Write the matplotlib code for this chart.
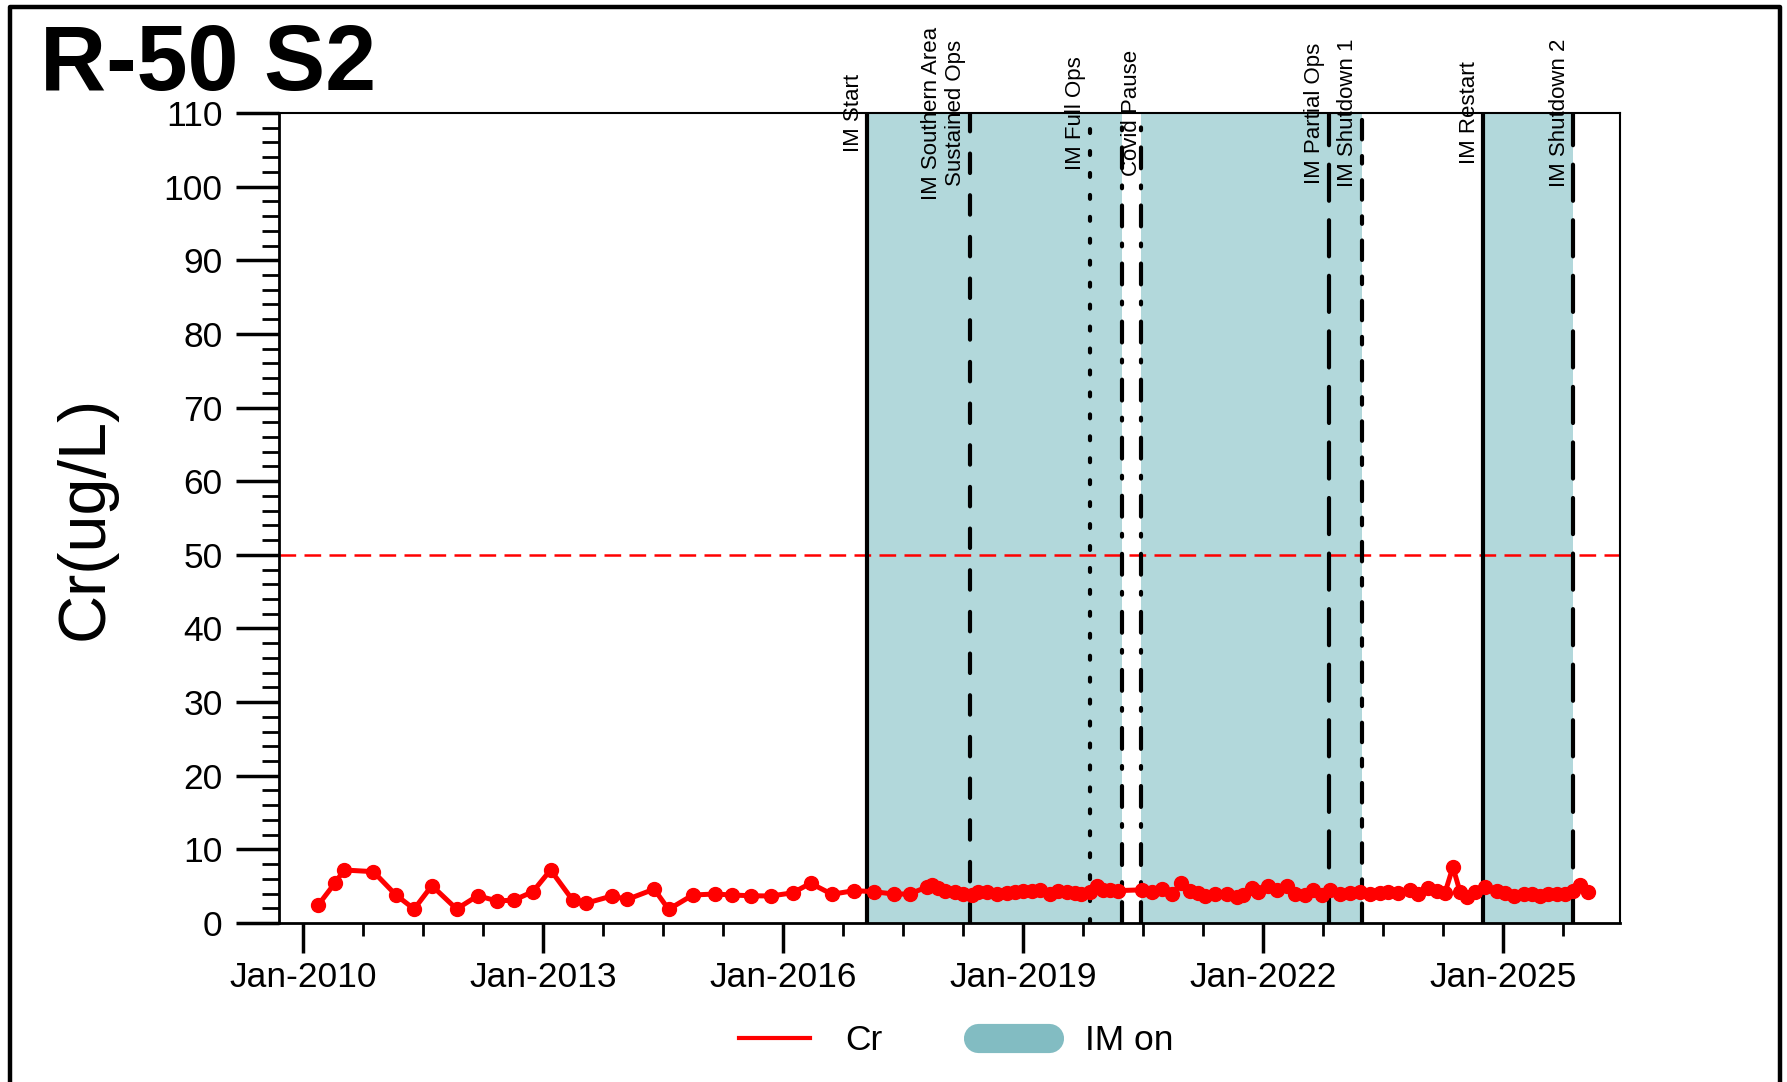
import pandas as pd
import matplotlib
matplotlib.use('Agg')
from matplotlib import pyplot as plt
import matplotlib.dates as mdates
from matplotlib.lines import Line2D
from matplotlib.ticker import MultipleLocator

plt.rcParams['font.family'] = ['Liberation Sans', 'DejaVu Sans']
plt.rcParams['lines.scale_dashes'] = False

well = 'R-50 S2'
analyte = 'Cr'
ylabel = 'Cr(ug/L)'
limit = 50

sample_dates = [
  '2010-03-10', '2010-05-27', '2010-07-06', '2010-11-17', '2011-02-28', '2011-05-22',
  '2011-08-11', '2011-12-02', '2012-03-07', '2012-06-03', '2012-08-19', '2012-11-14',
  '2013-02-03', '2013-05-15', '2013-07-13', '2013-11-10', '2014-01-19', '2014-05-22',
  '2014-07-27', '2014-11-14', '2015-02-25', '2015-05-12', '2015-08-08', '2015-11-06',
  '2016-02-14', '2016-05-05', '2016-08-11', '2016-11-21', '2017-02-17', '2017-05-19',
  '2017-07-31', '2017-10-19', '2017-11-10', '2017-12-09', '2018-01-08', '2018-02-24',
  '2018-04-01', '2018-05-11', '2018-06-09', '2018-07-19', '2018-09-02', '2018-10-19',
  '2018-11-24', '2019-01-01', '2019-02-10', '2019-03-18', '2019-05-05', '2019-06-10',
  '2019-07-20', '2019-08-26', '2019-09-24', '2019-11-03', '2019-12-02', '2020-01-02',
  '2020-02-03', '2020-03-11', '2020-06-25', '2020-08-11', '2020-09-25', '2020-11-10',
  '2020-12-21', '2021-02-02', '2021-03-11', '2021-04-10', '2021-05-27', '2021-07-19',
  '2021-09-02', '2021-10-02', '2021-11-10', '2021-12-09', '2022-01-25', '2022-03-04',
  '2022-04-19', '2022-05-27', '2022-07-11', '2022-08-18', '2022-09-25', '2022-11-02',
  '2022-12-17', '2023-02-02', '2023-03-18', '2023-05-03', '2023-06-18', '2023-07-26',
  '2023-09-10', '2023-11-02', '2023-12-09', '2024-01-25', '2024-03-04', '2024-04-10',
  '2024-05-16', '2024-06-18', '2024-07-19', '2024-08-26', '2024-10-10', '2024-12-03',
  '2025-01-10', '2025-02-17', '2025-04-04', '2025-05-12', '2025-06-18', '2025-07-26',
  '2025-09-02', '2025-10-10', '2025-11-17', '2025-12-17', '2026-01-25',
]
cr = [
  2.44, 5.48, 7.2, 6.97, 3.8, 1.9,
  5.07, 1.9, 3.7, 3.0, 3.1, 4.25,
  7.2, 3.1, 2.67, 3.67, 3.2, 4.6,
  1.85, 3.8, 3.94, 3.8, 3.7, 3.67,
  4.1, 5.4, 3.9, 4.4, 4.25, 3.94,
  3.94, 4.9, 5.16, 4.7, 4.4, 4.2,
  4.0, 3.8, 4.2, 4.2, 4.0, 4.1,
  4.2, 4.4, 4.4, 4.5, 3.9, 4.4,
  4.2, 4.1, 3.9, 4.2, 5.0, 4.5,
  4.5, 4.4, 4.5, 4.2, 4.6, 3.9,
  5.4, 4.4, 4.1, 3.7, 3.9, 3.9,
  3.5, 3.8, 4.7, 4.2, 5.0, 4.5,
  5.0, 3.9, 3.8, 4.5, 3.8, 4.5,
  3.9, 4.1, 4.2, 4.0, 4.1, 4.2,
  4.1, 4.5, 3.9, 4.7, 4.4, 4.1,
  7.6, 4.2, 3.5, 4.2, 4.9, 4.4,
  4.1, 3.7, 4.0, 4.0, 3.7, 4.0,
  4.0, 4.0, 4.4, 5.2, 4.2,
]

event_dates = ['2017-01-19', '2018-05-01', '2019-11-01', '2020-03-25', '2020-06-20',
               '2022-10-28', '2023-03-26', '2024-10-01', '2025-11-17']
event_labels = ['IM Start', 'IM Southern Area\nSustained Ops', 'IM Full Ops', '', 'Covid Pause',
                'IM Partial Ops', 'IM Shutdown 1', 'IM Restart', 'IM Shutdown 2']

# IM on periods (start, end)
im_on = [('2017-01-19', '2020-03-25'), ('2020-06-20', '2023-03-26'), ('2024-10-01', '2025-11-17')]

# line style per event (dash patterns in points)
solid = (0, ())
covid = (0, (15, 12.4, 2, 12.4))
event_styles = [solid, (0, (14, 16)), (0, (2.8, 13)), covid, covid,
                (0, (26, 14)), (0, (14, 12, 5.4, 12)), solid, (0, (26, 14))]

shade = '#b2d8db'
shade_leg = '#82bcc2'

fig = plt.figure(figsize=(17.87, 10.82), dpi=100)
ax = fig.add_axes([279/1787, 1 - 923/1082, (1620 - 279)/1787, (923 - 113)/1082])

t = pd.to_datetime(sample_dates)
ev = pd.to_datetime(event_dates)

for a, b in im_on:
  ax.axvspan(pd.Timestamp(a), pd.Timestamp(b), color=shade, lw=0, zorder=0)

ax.axhline(limit, color='red', lw=1.8, linestyle=(0, (12, 6)), zorder=2)

for i in range(len(ev)):
  ls = event_styles[i]
  cap = 'butt' if ls == solid else 'round'
  ax.axvline(ev[i], color='black', lw=3, linestyle=ls, dash_capstyle=cap, zorder=3)
  if event_labels[i] == '':
    continue
  if event_labels[i] == 'Covid Pause':
    xm = ev[i-1] + (ev[i] - ev[i-1])/2
    ax.annotate(event_labels[i], xy=(xm, 110), xycoords='data', rotation=90,
                ha='center', va='center', fontsize=16, annotation_clip=False)
  else:
    ax.annotate(event_labels[i], xy=(ev[i], 110), xycoords='data',
                xytext=(-2.5, 0), textcoords='offset points', rotation=90,
                ha='right', va='center', multialignment='center', fontsize=16,
                annotation_clip=False)

ax.plot(t, cr, '-o', color='red', lw=3.6, markersize=10, zorder=5, clip_on=False)

ax.set_ylim(0, 110)
ax.set_xlim(pd.Timestamp('2009-09-12'), pd.Timestamp('2026-06-18'))
ax.yaxis.set_major_locator(MultipleLocator(10))
ax.yaxis.set_minor_locator(MultipleLocator(2))
ax.set_xticks(pd.date_range('2010-01-01', '2025-01-01', freq='36MS'))
ax.set_xticks(pd.date_range('2010-01-01', '2026-06-01', freq='9MS'), minor=True)
ax.xaxis.set_major_formatter(mdates.DateFormatter('%b-%Y'))

ax.tick_params(axis='y', which='major', length=31, width=2.5, labelsize=25.5, pad=9.5)
ax.tick_params(axis='y', which='minor', length=12, width=2)
ax.tick_params(axis='x', which='major', length=21.6, width=2.5, labelsize=25.5, pad=5.5)
ax.tick_params(axis='x', which='minor', length=9.4, width=2)
for s in ['left', 'bottom']:
  ax.spines[s].set_linewidth(2)
for s in ['top', 'right']:
  ax.spines[s].set_linewidth(1.5)

fig.text(40/1787, 1 - 90/1082, well, fontsize=66, fontweight='bold', ha='left', va='baseline')
fig.text(86/1787, 1 - 518/1082, ylabel, fontsize=48, rotation=90, ha='center', va='center')

handles = [Line2D([0], [0], color='red', lw=3),
           Line2D([0], [0], color=shade_leg, lw=21, solid_capstyle='round')]
fig.legend(handles, [analyte, 'IM on'], loc='center', bbox_to_anchor=(0.535, 1 - 1041/1082),
           ncol=2, frameon=False, fontsize=25.5, handlelength=2, handletextpad=1.0,
           columnspacing=2.7)

# outer frame (left, top, right)
fig.add_artist(Line2D([9.5/1787, 9.5/1787, 1780/1787, 1780/1787],
                      [-0.01, 1 - 6.5/1082, 1 - 6.5/1082, -0.01],
                      transform=fig.transFigure, color='black', lw=3.2))

fig.savefig('out.png', dpi=100)
